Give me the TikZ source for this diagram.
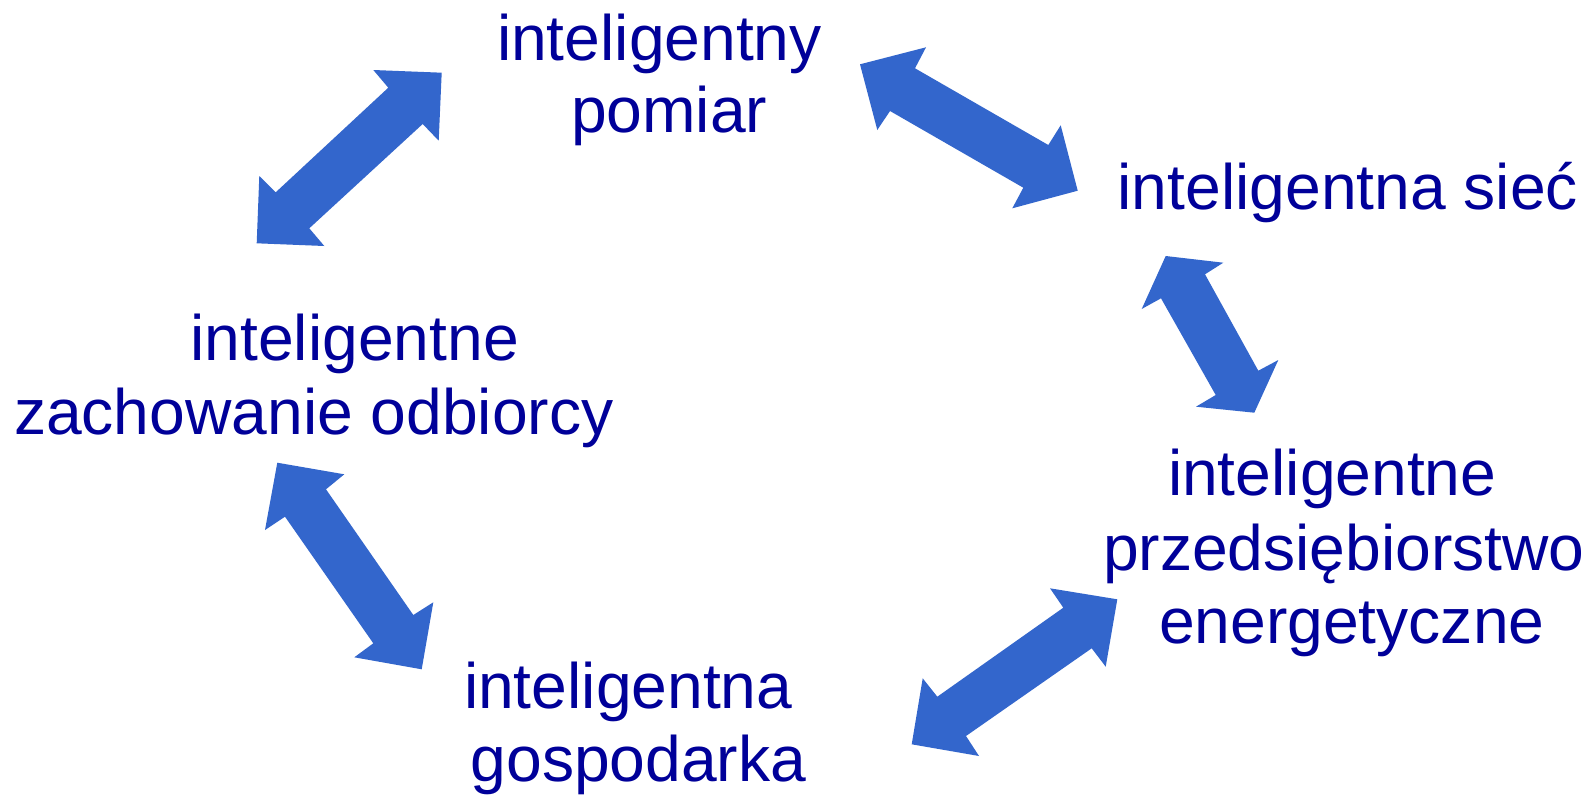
\documentclass[tikz,border=0pt]{standalone}
\usepackage{fontspec}
\setmainfont{Liberation Sans}
\definecolor{txtblue}{HTML}{000099}
\definecolor{arrblue}{HTML}{3366CC}
\begin{document}
\begin{tikzpicture}[x=1pt,y=-1pt,
  lbl/.style={inner sep=0pt, outer sep=0pt, anchor=base west, text=txtblue,
    font=\fontsize{64.2}{71}\selectfont},
  blockarrow/.style={fill=arrblue, draw=none}]
\useasboundingbox[fill=white] (0,0) rectangle (1587,798);

% labels
\node[lbl] (pomA) at (497,60.5) {inteligentny};
\node[lbl] (pomB) at (571,132) {pomiar};
\node[lbl] (siec) at (1117.7,209.5) {inteligentna sieć};
\node[lbl] (odbA) at (190.5,360) {inteligentne};
\node[lbl] (odbB) at (14,434) {zachowanie odbiorcy};
\node[lbl] (przA) at (1168,495.5) {inteligentne};
\node[lbl] (przB) at (1103,570) {przedsiębiorstwo};
\node[lbl] (przC) at (1159,643.3) {energetyczne};
\node[lbl] (gosA) at (464,708.3) {inteligentna};
\node[lbl] (gosB) at (470.7,781) {gospodarka};

% double block arrows
\fill[blockarrow] (373.3,70) -- (441.7,72.7) -- (438.7,140.7) -- (422.7,124) -- (309.3,228.3) -- (324.3,246) -- (256.7,243.3) -- (259.3,176) -- (275.7,192.3) -- (388.3,87.7) -- cycle;
\fill[blockarrow] (860,64.3) -- (926,47.3) -- (915,68.3) -- (1048.3,145) -- (1060.7,125.3) -- (1077.7,190.7) -- (1012.3,208.3) -- (1023.3,187.7) -- (890,111) -- (877.3,130) -- cycle;
\fill[blockarrow] (1165.7,256) -- (1223.3,262.7) -- (1205,274.3) -- (1258.3,370.7) -- (1278.3,360) -- (1254.3,412.7) -- (1196,406.7) -- (1215.7,395) -- (1161,298.3) -- (1141.7,309) -- cycle;
\fill[blockarrow] (277.3,462.7) -- (344.3,474.3) -- (326,489.3) -- (413.3,615) -- (433.3,602.3) -- (421.7,669.3) -- (354.3,657.3) -- (373.3,643.3) -- (285,516.7) -- (265,530) -- cycle;
\fill[blockarrow] (1050,588.3) -- (1117.3,599.3) -- (1105.7,666.7) -- (1091.7,648.3) -- (966,736) -- (979,756) -- (911.7,744.3) -- (922.7,678.3) -- (937.3,696.7) -- (1063.3,607.7) -- cycle;
\end{tikzpicture}
\end{document}
